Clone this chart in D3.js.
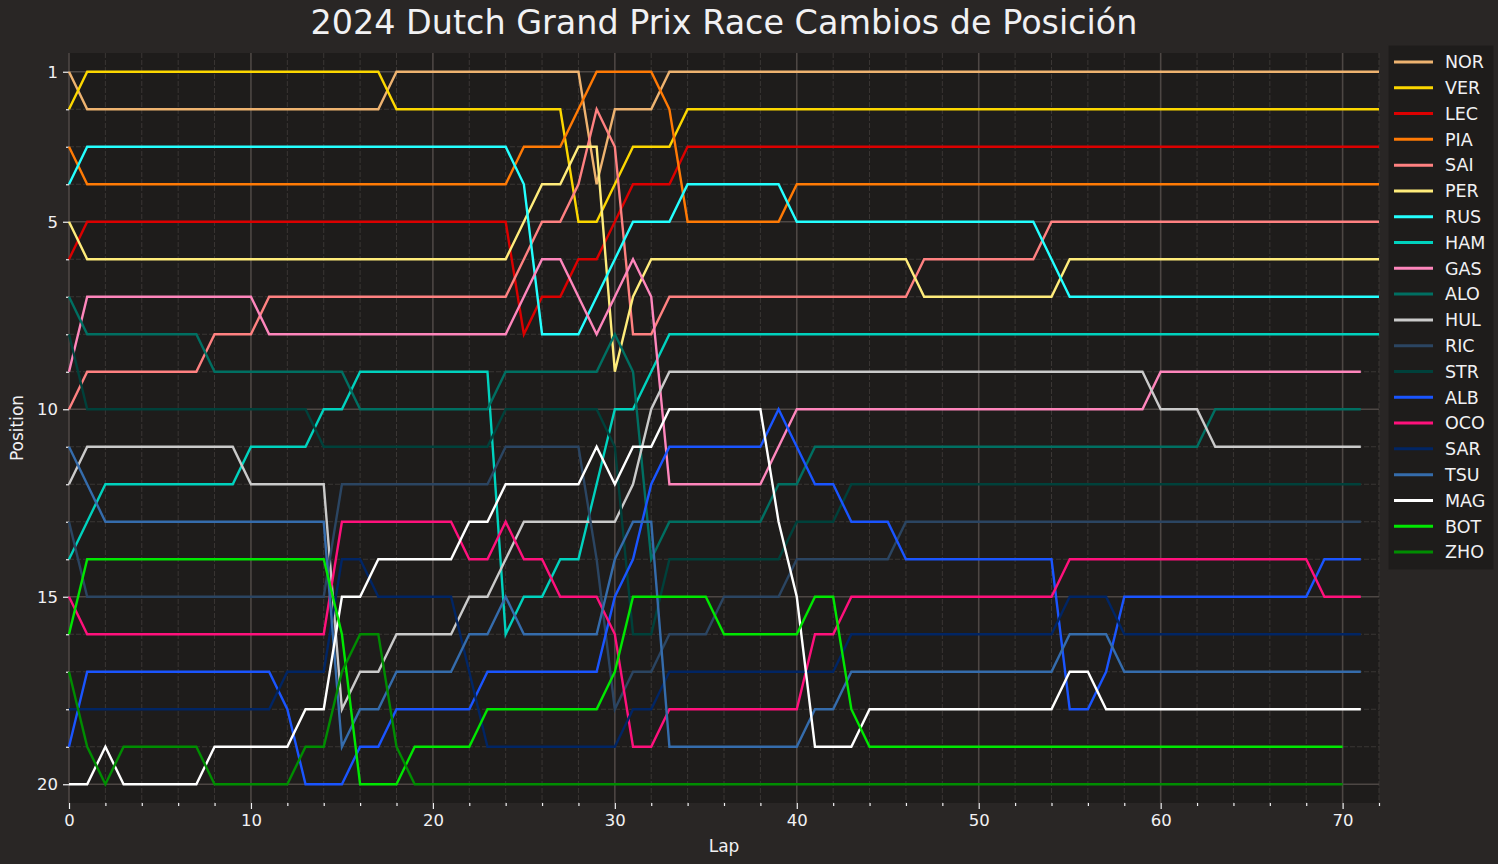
<!DOCTYPE html>
<html><head><meta charset="utf-8">
<script src="https://cdn.jsdelivr.net/npm/d3@7"></script>
<style>
body{margin:0;background:#292625;}
svg{display:block;font-family:"DejaVu Sans",sans-serif;}
</style>
</head><body>
<svg id="chart" width="1498" height="864"></svg>
<script>
// ---------------- DATA ----------------
const drivers = ["NOR","VER","LEC","PIA","SAI","PER","RUS","HAM","GAS","ALO","HUL","RIC","STR","ALB","OCO","SAR","TSU","MAG","BOT","ZHO"];
const driverColors = ["#eeb370","#fcd700","#dc0000","#ff7a05","#ff8181","#ffec7b","#24ffff","#00d2be","#fe86bc","#006f62","#cacaca","#2b4562","#00413b","#1a55ff","#ff117c","#012564","#356cac","#ffffff","#00e701","#008d01"];
const xTicks = [0,10,20,30,40,50,60,70];
const yTicks = [1,5,10,15,20];

// position per lap, index = lap number (lap 0 = grid)
const NOR = [1,2,2,2,2,2,2,2,2,2, 2,2,2,2,2,2,2,2,1,1, 1,1,1,1,1,1,1,1,1,4, 2,2,2,1,1,1,1,1,1,1, 1,1,1,1,1,1,1,1,1,1, 1,1,1,1,1,1,1,1,1,1, 1,1,1,1,1,1,1,1,1,1, 1,1,1];
const VER = [2,1,1,1,1,1,1,1,1,1, 1,1,1,1,1,1,1,1,2,2, 2,2,2,2,2,2,2,2,5,5, 4,3,3,3,2,2,2,2,2,2, 2,2,2,2,2,2,2,2,2,2, 2,2,2,2,2,2,2,2,2,2, 2,2,2,2,2,2,2,2,2,2, 2,2,2];
const LEC = [6,5,5,5,5,5,5,5,5,5, 5,5,5,5,5,5,5,5,5,5, 5,5,5,5,5,8,7,7,6,6, 5,4,4,4,3,3,3,3,3,3, 3,3,3,3,3,3,3,3,3,3, 3,3,3,3,3,3,3,3,3,3, 3,3,3,3,3,3,3,3,3,3, 3,3,3];
const PIA = [3,4,4,4,4,4,4,4,4,4, 4,4,4,4,4,4,4,4,4,4, 4,4,4,4,4,3,3,3,2,1, 1,1,1,2,5,5,5,5,5,5, 4,4,4,4,4,4,4,4,4,4, 4,4,4,4,4,4,4,4,4,4, 4,4,4,4,4,4,4,4,4,4, 4,4,4];
const SAI = [10,9,9,9,9,9,9,9,8,8, 8,7,7,7,7,7,7,7,7,7, 7,7,7,7,7,6,5,5,4,2, 3,8,8,7,7,7,7,7,7,7, 7,7,7,7,7,7,7,6,6,6, 6,6,6,6,5,5,5,5,5,5, 5,5,5,5,5,5,5,5,5,5, 5,5,5];
const PER = [5,6,6,6,6,6,6,6,6,6, 6,6,6,6,6,6,6,6,6,6, 6,6,6,6,6,5,4,4,3,3, 9,7,6,6,6,6,6,6,6,6, 6,6,6,6,6,6,6,7,7,7, 7,7,7,7,7,6,6,6,6,6, 6,6,6,6,6,6,6,6,6,6, 6,6,6];
const RUS = [4,3,3,3,3,3,3,3,3,3, 3,3,3,3,3,3,3,3,3,3, 3,3,3,3,3,4,8,8,8,7, 6,5,5,5,4,4,4,4,4,4, 5,5,5,5,5,5,5,5,5,5, 5,5,5,5,6,7,7,7,7,7, 7,7,7,7,7,7,7,7,7,7, 7,7,7];
const HAM = [14,13,12,12,12,12,12,12,12,12, 11,11,11,11,10,10,9,9,9,9, 9,9,9,9,16,15,15,14,14,12, 10,10,9,8,8,8,8,8,8,8, 8,8,8,8,8,8,8,8,8,8, 8,8,8,8,8,8,8,8,8,8, 8,8,8,8,8,8,8,8,8,8, 8,8,8];
const GAS = [9,7,7,7,7,7,7,7,7,7, 7,8,8,8,8,8,8,8,8,8, 8,8,8,8,8,7,6,6,7,8, 7,6,7,12,12,12,12,12,12,11, 10,10,10,10,10,10,10,10,10,10, 10,10,10,10,10,10,10,10,10,10, 9,9,9,9,9,9,9,9,9,9, 9,9];
const ALO = [7,8,8,8,8,8,8,8,9,9, 9,9,9,9,9,9,10,10,10,10, 10,10,10,10,9,9,9,9,9,9, 8,9,14,13,13,13,13,13,13,12, 12,11,11,11,11,11,11,11,11,11, 11,11,11,11,11,11,11,11,11,11, 11,11,11,10,10,10,10,10,10,10, 10,10];
const HUL = [12,11,11,11,11,11,11,11,11,11, 12,12,12,12,12,18,17,17,16,16, 16,16,15,15,14,13,13,13,13,13, 13,12,10,9,9,9,9,9,9,9, 9,9,9,9,9,9,9,9,9,9, 9,9,9,9,9,9,9,9,9,9, 10,10,10,11,11,11,11,11,11,11, 11,11];
const RIC = [13,15,15,15,15,15,15,15,15,15, 15,15,15,15,15,12,12,12,12,12, 12,12,12,12,11,11,11,11,11,14, 18,17,17,16,16,16,15,15,15,15, 14,14,14,14,14,14,13,13,13,13, 13,13,13,13,13,13,13,13,13,13, 13,13,13,13,13,13,13,13,13,13, 13,13];
const STR = [8,10,10,10,10,10,10,10,10,10, 10,10,10,10,11,11,11,11,11,11, 11,11,11,11,10,10,10,10,10,10, 11,16,16,14,14,14,14,14,14,14, 13,13,13,12,12,12,12,12,12,12, 12,12,12,12,12,12,12,12,12,12, 12,12,12,12,12,12,12,12,12,12, 12,12];
const ALB = [19,17,17,17,17,17,17,17,17,17, 17,17,18,20,20,20,19,19,18,18, 18,18,18,17,17,17,17,17,17,17, 15,14,12,11,11,11,11,11,11,10, 11,12,12,13,13,13,14,14,14,14, 14,14,14,14,14,18,18,17,15,15, 15,15,15,15,15,15,15,15,15,14, 14,14];
const OCO = [15,16,16,16,16,16,16,16,16,16, 16,16,16,16,16,13,13,13,13,13, 13,13,14,14,13,14,14,15,15,15, 16,19,19,18,18,18,18,18,18,18, 18,16,16,15,15,15,15,15,15,15, 15,15,15,15,15,14,14,14,14,14, 14,14,14,14,14,14,14,14,14,15, 15,15];
const SAR = [18,18,18,18,18,18,18,18,18,18, 18,18,17,17,17,14,14,15,15,15, 15,15,17,19,19,19,19,19,19,19, 19,18,18,17,17,17,17,17,17,17, 17,17,17,16,16,16,16,16,16,16, 16,16,16,16,16,15,15,15,16,16, 16,16,16,16,16,16,16,16,16,16, 16,16];
const TSU = [11,12,13,13,13,13,13,13,13,13, 13,13,13,13,13,19,18,18,17,17, 17,17,16,16,15,16,16,16,16,16, 14,13,13,19,19,19,19,19,19,19, 19,18,18,17,17,17,17,17,17,17, 17,17,17,17,17,16,16,16,17,17, 17,17,17,17,17,17,17,17,17,17, 17,17];
const MAG = [20,20,19,20,20,20,20,20,19,19, 19,19,19,18,18,15,15,14,14,14, 14,14,13,13,12,12,12,12,12,11, 12,11,11,10,10,10,10,10,10,13, 15,19,19,19,18,18,18,18,18,18, 18,18,18,18,18,17,17,18,18,18, 18,18,18,18,18,18,18,18,18,18, 18,18];
const BOT = [16,14,14,14,14,14,14,14,14,14, 14,14,14,14,14,16,20,20,20,19, 19,19,19,18,18,18,18,18,18,18, 17,15,15,15,15,15,16,16,16,16, 16,15,15,18,19,19,19,19,19,19, 19,19,19,19,19,19,19,19,19,19, 19,19,19,19,19,19,19,19,19,19, 19];
const ZHO = [17,19,20,19,19,19,19,19,20,20, 20,20,20,19,19,17,16,16,19,20, 20,20,20,20,20,20,20,20,20,20, 20,20,20,20,20,20,20,20,20,20, 20,20,20,20,20,20,20,20,20,20, 20,20,20,20,20,20,20,20,20,20, 20,20,20,20,20,20,20,20,20,20, 20];

const positions = [NOR,VER,LEC,PIA,SAI,PER,RUS,HAM,GAS,ALO,HUL,RIC,STR,ALB,OCO,SAR,TSU,MAG,BOT,ZHO];

// ---------------- CHART ----------------
const svg = d3.select("#chart");
const W = 1498, H = 864;
const M = {left:69, right:1379, top:53, bottom:803};

svg.append("rect").attr("width",W).attr("height",H).attr("fill","#292625");

const x = d3.scaleLinear().domain([0,72]).range([M.left, M.right]);
const y = d3.scaleLinear().domain([0.5,20.5]).range([M.top, M.bottom]);

svg.append("rect").attr("x",M.left).attr("y",M.top)
  .attr("width",M.right-M.left).attr("height",M.bottom-M.top).attr("fill","#1e1c1b");

const xMinor = d3.range(0,73,2).filter(v => !xTicks.includes(v));
const yMinor = d3.range(1,21).filter(v => !yTicks.includes(v));

const grid = svg.append("g");
grid.selectAll(".vmin").data(xMinor).join("line")
  .attr("x1",d=>x(d)).attr("x2",d=>x(d)).attr("y1",M.top).attr("y2",M.bottom)
  .attr("stroke","#3a3634").attr("stroke-width",1).attr("stroke-dasharray","5,2");
grid.selectAll(".hmin").data(yMinor).join("line")
  .attr("y1",d=>y(d)).attr("y2",d=>y(d)).attr("x1",M.left).attr("x2",M.right)
  .attr("stroke","#3a3634").attr("stroke-width",1).attr("stroke-dasharray","5,2");
grid.selectAll(".vmaj").data(xTicks).join("line")
  .attr("x1",d=>x(d)).attr("x2",d=>x(d)).attr("y1",M.top).attr("y2",M.bottom)
  .attr("stroke","#4d4744").attr("stroke-width",1.6);
grid.selectAll(".hmaj").data(yTicks).join("line")
  .attr("y1",d=>y(d)).attr("y2",d=>y(d)).attr("x1",M.left).attr("x2",M.right)
  .attr("stroke","#4d4744").attr("stroke-width",1.6);

const txtColor = "#f1f1f3";
function styleAxis(g){
  g.select(".domain").remove();
  g.selectAll(".tick line").attr("stroke",txtColor).attr("stroke-width",1.2);
  g.selectAll(".tick text").attr("fill",txtColor).attr("font-size","16.5px").attr("font-family","DejaVu Sans");
}
svg.append("g").attr("transform",`translate(0,${M.bottom})`)
  .call(d3.axisBottom(x).tickValues(xTicks).tickSize(6).tickPadding(5).tickFormat(d3.format("d")))
  .call(styleAxis);
svg.append("g").attr("transform",`translate(0,${M.bottom})`)
  .call(d3.axisBottom(x).tickValues(xMinor).tickSize(3).tickFormat(""))
  .call(styleAxis);
svg.append("g").attr("transform",`translate(${M.left},0)`)
  .call(d3.axisLeft(y).tickValues(yTicks).tickSize(6).tickPadding(5).tickFormat(d3.format("d")))
  .call(styleAxis);
svg.append("g").attr("transform",`translate(${M.left},0)`)
  .call(d3.axisLeft(y).tickValues(yMinor).tickSize(3).tickFormat(""))
  .call(styleAxis);

const line = d3.line().x((d,i)=>x(i)).y(d=>y(d));
const lines = svg.append("g");
drivers.forEach((drv,i)=>{
  lines.append("path").datum(positions[i])
    .attr("d",line).attr("fill","none")
    .attr("stroke",driverColors[i]).attr("stroke-width",2.4)
    .attr("stroke-linejoin","miter").attr("stroke-linecap","butt");
});

svg.append("text").attr("x",(M.left+M.right)/2).attr("y",34)
  .attr("text-anchor","middle").attr("fill",txtColor).attr("font-size","33.4px")
  .text("2024 Dutch Grand Prix Race Cambios de Posición");
svg.append("text").attr("x",(M.left+M.right)/2).attr("y",852)
  .attr("text-anchor","middle").attr("fill",txtColor).attr("font-size","17px").text("Lap");
svg.append("text").attr("transform",`translate(23,${(M.top+M.bottom)/2}) rotate(-90)`)
  .attr("text-anchor","middle").attr("fill",txtColor).attr("font-size","17px").text("Position");

const lg = svg.append("g");
lg.append("rect").attr("x",1388).attr("y",45).attr("width",106).attr("height",525)
  .attr("fill","#1e1c1b").attr("stroke","#2a2726");
const ly = d3.scalePoint().domain(drivers).range([62,552]);
drivers.forEach((drv,i)=>{
  lg.append("line").attr("x1",1394).attr("x2",1433).attr("y1",ly(drv)).attr("y2",ly(drv))
    .attr("stroke",driverColors[i]).attr("stroke-width",3);
  lg.append("text").attr("x",1445).attr("y",ly(drv)).attr("dy","0.36em")
    .attr("fill",txtColor).attr("font-size","17.5px").text(drv);
});
</script>
</body></html>
